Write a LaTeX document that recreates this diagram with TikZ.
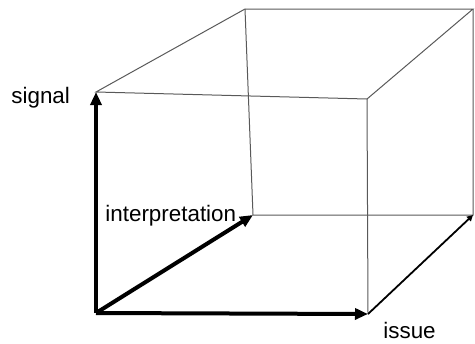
\documentclass[tikz,border=0pt]{standalone}
\usepackage{fontspec}
\setmainfont{Liberation Sans}
\usetikzlibrary{arrows.meta}
\begin{document}
\begin{tikzpicture}[x=0.5pt, y=-0.5pt, font=\fontsize{11.2pt}{13pt}\selectfont,
    edge/.style={draw=black!65, line width=0.5pt},
    axis/.style={line width=2pt, -{Triangle[length=6.5pt,width=5.5pt]}},
    lbl/.style={inner sep=0pt, anchor=base west}]
            \useasboundingbox (0,0) rectangle (475,343);
            % Corners
            \coordinate (O) at (96,313);
            \coordinate (S) at (96,92);
            \coordinate (I) at (253,215);
            \coordinate (X) at (368,314);
            \coordinate (btl) at (245,9);
            \coordinate (btr) at (473,9);
            \coordinate (ftr) at (367,99);
            \coordinate (bbr) at (473,215);
            % Thin edges
            \draw[edge] (S) -- (btl) -- (btr) -- (ftr) -- cycle;
            \draw[edge] (btl) -- (I) -- (bbr) -- (btr);
            \draw[edge] (ftr) -- (X);
            \draw[line width=0.9pt, -{Triangle[length=3pt,width=3pt]}] (X) -- (bbr);
            % Axes
            \draw[axis] (O) -- (S);
            \draw[axis] (O) -- (I);
            \draw[axis] (O) -- (X);
            % Labels
            \node[lbl] (signal) at (11,103) {signal};
            \node[lbl] (interp) at (105,221) {interpretation};
            \node[lbl] (issue) at (383,338) {issue};
        \end{tikzpicture}
\end{document}
